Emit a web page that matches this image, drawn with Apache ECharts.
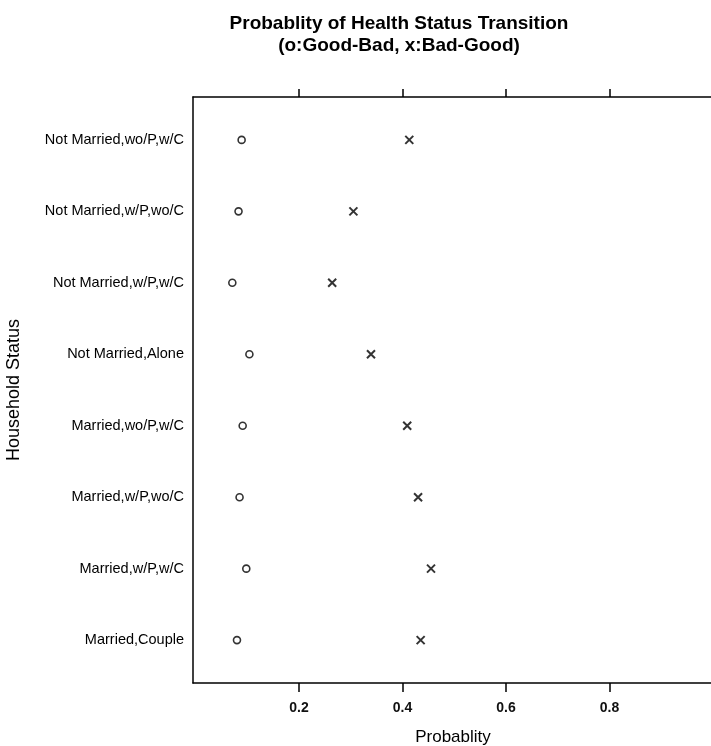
<!DOCTYPE html>
<html>
<head>
<meta charset="utf-8">
<script src="https://cdn.jsdelivr.net/npm/echarts@6/dist/echarts.min.js"></script>
<style>
html,body{margin:0;padding:0;background:#fff;}
#chart{width:711px;height:746px;}
</style>
</head>
<body>
<div id="chart"></div>
<script>
// Categories, top to bottom
const categories = [
  "Not Married,wo/P,w/C",
  "Not Married,w/P,wo/C",
  "Not Married,w/P,w/C",
  "Not Married,Alone",
  "Married,wo/P,w/C",
  "Married,w/P,wo/C",
  "Married,w/P,w/C",
  "Married,Couple"
];
// o: Good-Bad
const goodBad = [0.089, 0.083, 0.071, 0.104, 0.091, 0.085, 0.098, 0.080];
// x: Bad-Good
const badGood = [0.413, 0.305, 0.264, 0.339, 0.409, 0.430, 0.455, 0.435];
const xTicks = [0.2, 0.4, 0.6, 0.8];
const yPositions = categories.map((c, i) => i + 1);

const FONT = "Liberation Sans, Arial, sans-serif";
const chart = echarts.init(document.getElementById('chart'), null, {renderer: 'canvas'});

const xBase = {
  type: 'value', min: -0.005, max: 1.0,
  splitLine: {show: false},
  axisLine: {show: true, onZero: false, lineStyle: {color: '#000', width: 1.5}}
};

chart.setOption({
  animation: false,
  backgroundColor: '#fff',
  title: {
    text: 'Probablity of Health Status Transition\n(o:Good-Bad, x:Bad-Good)',
    left: 394, top: 8, textAlign: 'center',
    textStyle: {fontFamily: FONT, fontSize: 19, fontWeight: 'bold', color: '#000', lineHeight: 22}
  },
  grid: {left: 193, top: 97, height: 586, right: -2, containLabel: false, outerBoundsMode: 'none'},
  xAxis: [
    Object.assign({}, xBase, {
      position: 'bottom',
      name: 'Probablity', nameLocation: 'middle', nameGap: 46,
      nameTextStyle: {fontFamily: FONT, fontSize: 17, color: '#000'},
      axisTick: {show: true, inside: false, length: 9, customValues: xTicks, lineStyle: {color: '#000', width: 1.5}},
      axisLabel: {show: true, customValues: xTicks, margin: 18, fontFamily: FONT, fontSize: 14, fontWeight: 'bold', color: '#111',
        formatter: v => String(v)}
    }),
    Object.assign({}, xBase, {
      position: 'top',
      axisTick: {show: true, inside: false, length: 8, customValues: xTicks, lineStyle: {color: '#000', width: 1.5}},
      axisLabel: {show: false}
    })
  ],
  yAxis: {
    type: 'value', min: 0.4, max: 8.6, inverse: true,
    name: 'Household Status', nameLocation: 'middle', nameGap: 170, nameRotate: 90,
    nameTextStyle: {fontFamily: FONT, fontSize: 18, color: '#000'},
    splitLine: {show: false},
    axisLine: {show: true, onZero: false, lineStyle: {color: '#000', width: 1.5}},
    axisTick: {show: false},
    axisLabel: {show: true, customValues: yPositions, margin: 9, fontFamily: FONT, fontSize: 14.5, color: '#000',
      formatter: v => categories[Math.round(v) - 1] || ''}
  },
  series: [
    {
      name: 'Good-Bad', type: 'scatter', xAxisIndex: 0,
      data: goodBad.map((v, i) => [v, yPositions[i]]),
      symbol: 'circle', symbolSize: 7,
      itemStyle: {color: '#fff', borderColor: '#000', borderWidth: 1.6}
    },
    {
      name: 'Bad-Good', type: 'scatter', xAxisIndex: 0,
      data: badGood.map((v, i) => [v, yPositions[i]]),
      symbol: 'path://M0,0L10,10M10,0L0,10', symbolSize: 8,
      itemStyle: {color: 'rgba(0,0,0,0)', borderColor: '#000', borderWidth: 2}
    }
  ]
});
</script>
</body>
</html>
